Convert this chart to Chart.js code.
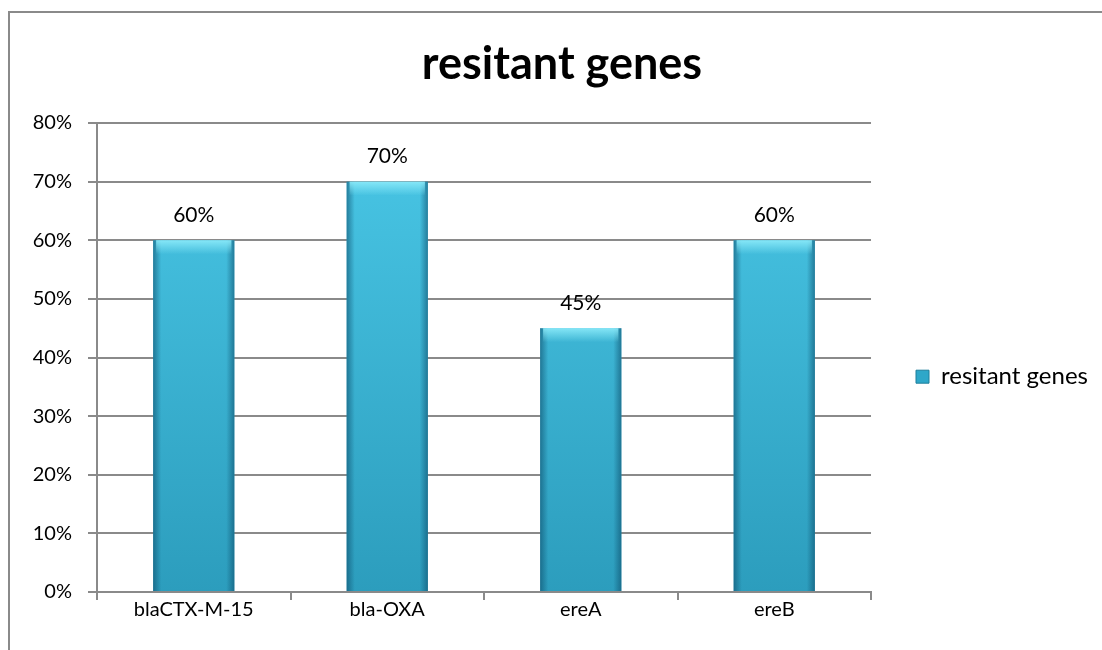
<!DOCTYPE html>
<html lang="en">
<head>
    <meta charset="UTF-8">
    <title>resitant genes</title>
    <script src="https://cdn.jsdelivr.net/npm/chart.js"></script>
    <style>
        html, body { margin: 0; padding: 0; background: #fff; overflow: hidden; }
        .frame { position: absolute; left: 8px; top: 11px; width: 1200px; height: 700px;
                 border-left: 2px solid #8a8a8a; border-top: 2px solid #8a8a8a; }
        .wrap { position: absolute; left: 0; top: 0; width: 1124px; height: 650px; }
    </style>
</head>
<body>
    <div class="frame"></div>
    <div class="wrap"><canvas id="genesChart"></canvas></div>

    <script>
        const genes = ['blaCTX-M-15', 'bla-OXA', 'ereA', 'ereB'];
        const resistance = [60, 70, 45, 60];
        const yTicks = [0, 10, 20, 30, 40, 50, 60, 70, 80];
        const seriesName = 'resitant genes';

        const FONT = 'Lato, "Open Sans", sans-serif';
        const barFrac = 0.42;

        // vertical shade for the bar body
        function barFill(context) {
            const chart = context.chart;
            const area = chart.chartArea;
            if (!area) return '#36b3d6';
            const g = chart.ctx.createLinearGradient(0, area.top, 0, area.bottom);
            g.addColorStop(0, '#4ac8e7');
            g.addColorStop(1, '#2c9dbd');
            return g;
        }

        // edge shading + top highlight so the bars look bevelled like the original
        const bevel = {
            id: 'bevel',
            afterDatasetsDraw(chart) {
                const ctx = chart.ctx;
                chart.getDatasetMeta(0).data.forEach(bar => {
                    const left = bar.x - bar.width / 2;
                    const right = bar.x + bar.width / 2;
                    const top = bar.y, bottom = bar.base;
                    ctx.save();
                    const h = ctx.createLinearGradient(left, 0, right, 0);
                    h.addColorStop(0, 'rgba(10,70,100,0.55)');
                    h.addColorStop(0.1, 'rgba(10,70,100,0.0)');
                    h.addColorStop(0.9, 'rgba(10,70,100,0.0)');
                    h.addColorStop(1, 'rgba(10,70,100,0.55)');
                    ctx.fillStyle = h;
                    ctx.fillRect(left, top, right - left, bottom - top);
                    const v = ctx.createLinearGradient(0, top, 0, top + 14);
                    v.addColorStop(0, 'rgba(140,235,250,0.9)');
                    v.addColorStop(1, 'rgba(140,235,250,0)');
                    ctx.fillStyle = v;
                    ctx.fillRect(left + 3, top, right - left - 6, 14);
                    ctx.restore();
                });
            }
        };

        const valueLabels = {
            id: 'valueLabels',
            afterDatasetsDraw(chart) {
                const ctx = chart.ctx;
                ctx.save();
                ctx.font = '21px ' + FONT;
                ctx.fillStyle = '#000';
                ctx.textAlign = 'center';
                ctx.textBaseline = 'middle';
                chart.getDatasetMeta(0).data.forEach((bar, i) => {
                    ctx.fillText(resistance[i] + '%', bar.x, bar.y - 25);
                });
                ctx.restore();
            }
        };

        new Chart(document.getElementById('genesChart'), {
            type: 'bar',
            data: {
                labels: genes,
                datasets: [{
                    label: seriesName,
                    data: resistance,
                    backgroundColor: barFill,
                    borderWidth: 0,
                    barPercentage: barFrac,
                    categoryPercentage: 1
                }]
            },
            options: {
                responsive: true,
                maintainAspectRatio: false,
                animation: false,
                layout: { padding: { left: 26, right: 26, top: 30, bottom: 30 } },
                plugins: {
                    title: {
                        display: true,
                        text: seriesName,
                        color: '#000',
                        font: { family: FONT, size: 45, weight: 'bold' },
                        padding: { top: 7, bottom: 32 }
                    },
                    legend: {
                        position: 'right',
                        fullSize: false,
                        title: { display: true, text: ' ', padding: 12, font: { size: 12 } },
                        labels: {
                            color: '#000',
                            font: { family: FONT, size: 24 },
                            boxWidth: 13,
                            boxHeight: 13,
                            padding: 45,
                            generateLabels: () => [{
                                text: seriesName,
                                fillStyle: '#2ea7c9',
                                strokeStyle: '#1d7f9c',
                                fontColor: '#000',
                                lineWidth: 1,
                                datasetIndex: 0
                            }]
                        }
                    },
                    tooltip: { enabled: false }
                },
                scales: {
                    x: {
                        grid: { drawOnChartArea: false, drawTicks: true, tickLength: 8, color: '#8a8a8a', lineWidth: 2 },
                        border: { color: '#8a8a8a', width: 2 },
                        ticks: { color: '#000', font: { family: FONT, size: 20 }, padding: -2 }
                    },
                    y: {
                        min: yTicks[0],
                        max: yTicks[yTicks.length - 1],
                        afterBuildTicks: scale => { scale.ticks = yTicks.map(v => ({ value: v })); },
                        afterFit: scale => { scale.width = 71; },
                        grid: { color: '#8a8a8a', lineWidth: 2, tickLength: 9 },
                        border: { color: '#8a8a8a', width: 2 },
                        ticks: { color: '#000', font: { family: FONT, size: 20 }, padding: 16,
                                 callback: v => v + '%' }
                    }
                }
            },
            plugins: [bevel, valueLabels]
        });
    </script>
</body>
</html>
